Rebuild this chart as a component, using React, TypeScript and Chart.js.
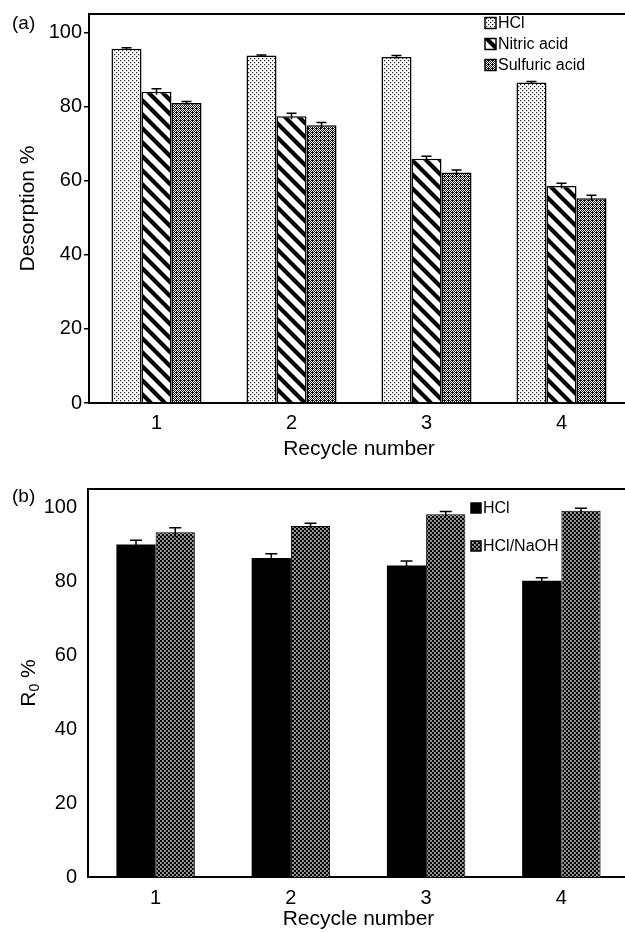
import React, { useEffect, useRef } from 'react';
import { Chart, registerables } from 'chart.js';

Chart.register(...registerables);

const cycles = ['1', '2', '3', '4'];
const yTicks = [0, 20, 40, 60, 80, 100];

const desorptionLabels = ['HCl', 'Nitric acid', 'Sulfuric acid'];
const hclDesorption = [95.6, 93.8, 93.4, 86.5];
const hclDesorptionErr = [0.3, 0.15, 0.4, 0.3];
const nitricDesorption = [84.0, 77.4, 65.9, 58.6];
const nitricDesorptionErr = [0.8, 0.8, 0.7, 0.7];
const sulfuricDesorption = [81.0, 75.0, 62.2, 55.3];
const sulfuricDesorptionErr = [0.4, 0.7, 0.7, 0.8];

const r0Labels = ['HCl', 'HCl/NaOH'];
const hclR0 = [90.0, 86.3, 84.3, 80.2];
const hclR0Err = [1.1, 1.2, 1.2, 0.8];
const hclNaohR0 = [93.3, 95.0, 98.2, 99.1];
const hclNaohR0Err = [1.2, 0.7, 0.7, 0.7];

const FONT = "'Liberation Sans', Arial, Helvetica, sans-serif";

function makePattern(w: number, h: number, draw: (c: CanvasRenderingContext2D) => void) {
  const cv = document.createElement('canvas');
  cv.width = w;
  cv.height = h;
  const c = cv.getContext('2d')!;
  draw(c);
  return c.createPattern(cv, 'repeat')!;
}

function dotsPattern() {
  return makePattern(4, 4, (c) => {
    c.fillStyle = '#fff';
    c.fillRect(0, 0, 4, 4);
    c.fillStyle = '#222';
    c.fillRect(0, 0, 1.2, 1.2);
    c.fillRect(2, 2, 1.2, 1.2);
  });
}

function stripePattern() {
  const s = 14;
  return makePattern(s, s, (c) => {
    c.fillStyle = '#fff';
    c.fillRect(0, 0, s, s);
    c.strokeStyle = '#000';
    c.lineWidth = 4.2;
    c.beginPath();
    for (const k of [-s, 0, s]) {
      c.moveTo(k - 2, -2);
      c.lineTo(k + s + 2, s + 2);
    }
    c.stroke();
  });
}

function meshPattern() {
  return makePattern(4, 4, (c) => {
    c.fillStyle = '#fff';
    c.fillRect(0, 0, 4, 4);
    c.fillStyle = '#111';
    for (let x = 0; x < 4; x++) {
      for (let y = 0; y < 4; y++) {
        if ((x + y) % 2 === 1) c.fillRect(x, y, 1, 1);
      }
    }
    c.fillRect(0, 0, 1, 1);
  });
}

function darkDotsPattern() {
  return makePattern(4, 4, (c) => {
    c.fillStyle = '#000';
    c.fillRect(0, 0, 4, 4);
    c.fillStyle = '#fff';
    c.fillRect(0.2, 0.2, 1.5, 1.5);
    c.fillRect(2.2, 2.2, 1.5, 1.5);
  });
}

const extrasPlugin = {
  id: 'extras',
  afterDatasetsDraw(chart: any, _args: any, opts: any) {
    const ctx = chart.ctx as CanvasRenderingContext2D;
    const y = chart.scales.y;
    (opts.errors || []).forEach((errs: number[], di: number) => {
      const meta = chart.getDatasetMeta(di);
      meta.data.forEach((bar: any, i: number) => {
        const v = chart.data.datasets[di].data[i] as number;
        const top = y.getPixelForValue(v + errs[i]);
        const base = y.getPixelForValue(v - errs[i]);
        ctx.save();
        ctx.strokeStyle = '#000';
        ctx.lineWidth = opts.errWidth;
        ctx.beginPath();
        ctx.moveTo(bar.x, base);
        ctx.lineTo(bar.x, top);
        ctx.moveTo(bar.x - opts.cap / 2, top);
        ctx.lineTo(bar.x + opts.cap / 2, top);
        ctx.stroke();
        ctx.restore();
      });
    });
  },
  afterDraw(chart: any, _args: any, opts: any) {
    const ctx = chart.ctx as CanvasRenderingContext2D;
    const area = chart.chartArea;
    ctx.save();
    ctx.strokeStyle = '#000';
    ctx.lineWidth = 2;
    ctx.beginPath();
    ctx.moveTo(area.left - 1, area.top);
    ctx.lineTo(chart.width, area.top);
    ctx.stroke();
    ctx.fillStyle = '#000';
    ctx.font = `19px ${FONT}`;
    ctx.textAlign = 'left';
    ctx.textBaseline = 'middle';
    ctx.fillText(opts.panel, 12, opts.panelY);
    ctx.font = `16px ${FONT}`;
    chart.data.datasets.forEach((ds: any, i: number) => {
      const ly = opts.legendY + i * opts.legendGap;
      const bx = opts.legendX;
      const bs = opts.boxSize;
      ctx.fillStyle = ds.backgroundColor;
      ctx.fillRect(bx, ly - bs / 2, bs, bs);
      ctx.strokeStyle = '#000';
      ctx.lineWidth = 1.5;
      ctx.strokeRect(bx, ly - bs / 2, bs, bs);
      ctx.fillStyle = '#000';
      ctx.fillText(ds.label, bx + bs + 2, ly + 1);
    });
    if (opts.subTitle) {
      const cy = (area.top + area.bottom) / 2;
      ctx.translate(29, cy);
      ctx.rotate(-Math.PI / 2);
      const big = `21px ${FONT}`;
      const small = `14px ${FONT}`;
      ctx.font = big;
      const wR = ctx.measureText('R').width;
      const wP = ctx.measureText(' %').width;
      ctx.font = small;
      const w0 = ctx.measureText('0').width;
      let x = -(wR + w0 + wP) / 2;
      ctx.textAlign = 'left';
      ctx.textBaseline = 'middle';
      ctx.fillStyle = '#000';
      ctx.font = big;
      ctx.fillText('R', x, 0);
      x += wR;
      ctx.font = small;
      ctx.fillText('0', x, 6);
      x += w0;
      ctx.font = big;
      ctx.fillText(' %', x, 0);
    }
    ctx.restore();
  },
};

function baseOptions(opts: {
  bottomH: number;
  leftW: number;
  padTop: number;
  yTickMarks: boolean;
  yLabelPad: number;
  yTitle: string | null;
  xTickPad: number;
  xTitlePadBottom: number;
  extras: any;
}) {
  return {
    responsive: false,
    maintainAspectRatio: false,
    animation: false as const,
    layout: { padding: { top: opts.padTop, right: 11, left: 0, bottom: 0 } },
    plugins: {
      legend: { display: false },
      tooltip: { enabled: false },
      extras: opts.extras,
    },
    scales: {
      x: {
        grid: { display: false },
        border: { display: true, color: '#000', width: 2 },
        ticks: { font: { family: FONT, size: 20 }, color: '#000', padding: opts.xTickPad },
        title: {
          display: true,
          text: 'Recycle number',
          font: { family: FONT, size: 21 },
          color: '#000',
          padding: { top: 0, bottom: opts.xTitlePadBottom },
        },
        afterFit: (s: any) => {
          s.height = opts.bottomH;
        },
      },
      y: {
        min: 0,
        max: 105,
        afterBuildTicks: (s: any) => {
          s.ticks = yTicks.map((v) => ({ value: v }));
        },
        grid: {
          display: opts.yTickMarks,
          drawOnChartArea: false,
          drawTicks: true,
          tickLength: 5,
          color: '#000',
          lineWidth: 1.5,
        },
        border: { display: true, color: '#000', width: 2 },
        ticks: { font: { family: FONT, size: 20 }, color: '#000', padding: opts.yLabelPad },
        title: {
          display: !!opts.yTitle,
          text: opts.yTitle || '',
          font: { family: FONT, size: 21 },
          color: '#000',
          padding: { top: 16, bottom: 0 },
        },
        afterFit: (s: any) => {
          s.width = opts.leftW;
        },
      },
    },
  };
}

export default function App() {
  const refA = useRef<HTMLCanvasElement>(null);
  const refB = useRef<HTMLCanvasElement>(null);

  useEffect(() => {
    const chartA = new Chart(refA.current!, {
      type: 'bar',
      data: {
        labels: cycles,
        datasets: [
          {
            label: desorptionLabels[0],
            data: hclDesorption,
            backgroundColor: dotsPattern() as any,
            borderColor: '#000',
            borderWidth: 1.5,
            categoryPercentage: 0.667,
            barPercentage: 1,
          },
          {
            label: desorptionLabels[1],
            data: nitricDesorption,
            backgroundColor: stripePattern() as any,
            borderColor: '#000',
            borderWidth: 1.5,
            categoryPercentage: 0.667,
            barPercentage: 1,
          },
          {
            label: desorptionLabels[2],
            data: sulfuricDesorption,
            backgroundColor: meshPattern() as any,
            borderColor: '#000',
            borderWidth: 1.5,
            categoryPercentage: 0.667,
            barPercentage: 1,
          },
        ],
      },
      options: baseOptions({
        bottomH: 63,
        leftW: 89,
        padTop: 14,
        yTickMarks: true,
        yLabelPad: 2,
        yTitle: 'Desorption %',
        xTickPad: 0,
        xTitlePadBottom: 4,
        extras: {
          errors: [hclDesorptionErr, nitricDesorptionErr, sulfuricDesorptionErr],
          errWidth: 1.5,
          cap: 10,
          panel: '(a)',
          panelY: 24,
          legendX: 485,
          legendY: 23,
          legendGap: 21,
          boxSize: 11,
          subTitle: false,
        },
      }) as any,
      plugins: [extrasPlugin as any],
    });

    const chartB = new Chart(refB.current!, {
      type: 'bar',
      data: {
        labels: cycles,
        datasets: [
          {
            label: r0Labels[0],
            data: hclR0,
            backgroundColor: '#000',
            borderColor: '#000',
            borderWidth: 0,
            categoryPercentage: 0.58,
            barPercentage: 1,
          },
          {
            label: r0Labels[1],
            data: hclNaohR0,
            backgroundColor: darkDotsPattern() as any,
            borderColor: '#000',
            borderWidth: 1,
            categoryPercentage: 0.58,
            barPercentage: 1,
          },
        ],
      },
      options: baseOptions({
        bottomH: 55,
        leftW: 88,
        padTop: 23,
        yTickMarks: false,
        yLabelPad: 6,
        yTitle: null,
        xTickPad: 1,
        xTitlePadBottom: 0,
        extras: {
          errors: [hclR0Err, hclNaohR0Err],
          errWidth: 1.5,
          cap: 12,
          panel: '(b)',
          panelY: 31,
          legendX: 471,
          legendY: 42,
          legendGap: 38,
          boxSize: 10,
          subTitle: true,
        },
      }) as any,
      plugins: [extrasPlugin as any],
    });

    return () => {
      chartA.destroy();
      chartB.destroy();
    };
  }, []);

  return (
    <div
      style={{
        position: 'absolute',
        left: 0,
        top: 0,
        width: 625,
        height: 932,
        overflow: 'hidden',
        background: '#fff',
      }}
    >
      <canvas
        ref={refA}
        width={640}
        height={466}
        style={{ position: 'absolute', left: 0, top: 0, width: 640, height: 466 }}
      />
      <canvas
        ref={refB}
        width={640}
        height={466}
        style={{ position: 'absolute', left: 0, top: 466, width: 640, height: 466 }}
      />
    </div>
  );
}
